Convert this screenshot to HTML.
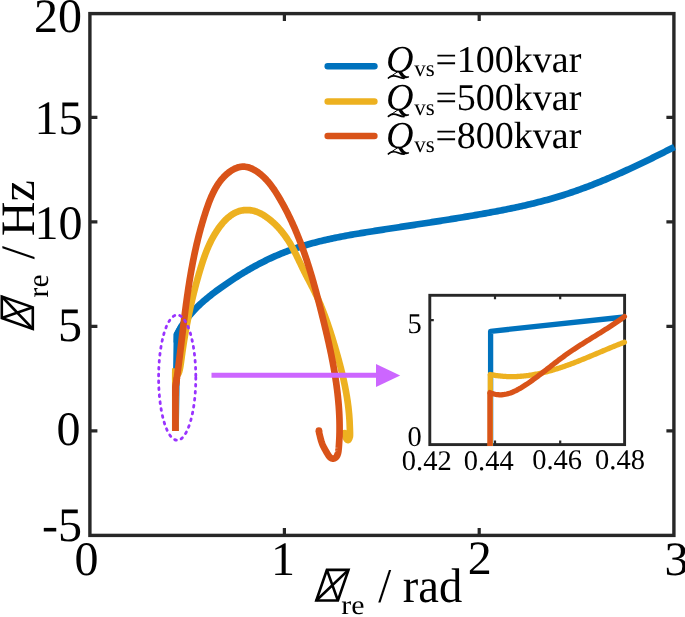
<!DOCTYPE html>
<html><head><meta charset="utf-8"><title>chart</title>
<style>html,body{margin:0;padding:0;background:#fff;overflow:hidden}svg{display:block;will-change:transform}text{font-family:"Liberation Serif",serif;fill:#000;text-rendering:geometricPrecision}.i{font-style:italic}</style></head><body>
<svg width="685" height="617" viewBox="0 0 685 617">
<rect width="685" height="617" fill="#fff"/>
<g stroke="#272727" stroke-width="3.40" fill="none" stroke-linecap="butt" stroke-linejoin="miter">
<rect x="89.90" y="13.60" width="584.00" height="521.80"/>
</g>
<g stroke="#272727" stroke-width="3.2" fill="none">
<path d="M89.90 117.30 H97.40 M673.90 117.30 H666.40"/>
<path d="M89.90 221.90 H97.40 M673.90 221.90 H666.40"/>
<path d="M89.90 326.30 H97.40 M673.90 326.30 H666.40"/>
<path d="M89.90 430.90 H97.40 M673.90 430.90 H666.40"/>
<path d="M284.40 535.40 V527.90 M284.40 13.60 V21.10"/>
<path d="M479.20 535.40 V527.90 M479.20 13.60 V21.10"/>
</g>
<g>
<path d="M175.50 431.00 L177.00 334.60 L177.80 333.00 L178.62 331.42 L179.47 329.87 L180.35 328.34 L181.26 326.84 L182.19 325.36 L183.15 323.90 L184.13 322.46 L185.13 321.04 L186.16 319.64 L187.21 318.27 L188.29 316.91 L189.38 315.57 L190.50 314.25 L191.64 312.95 L192.79 311.67 L193.97 310.40 L195.16 309.15 L196.37 307.92 L197.60 306.70 L198.85 305.50 L200.11 304.32 L201.38 303.14 L202.68 301.98 L203.98 300.84 L205.30 299.70 L206.63 298.58 L207.97 297.47 L209.33 296.38 L210.70 295.29 L212.07 294.21 L213.46 293.14 L214.85 292.09 L216.26 291.04 L217.67 289.99 L219.09 288.96 L220.51 287.93 L221.94 286.91 L223.38 285.90 L224.82 284.89 L226.27 283.89 L227.72 282.90 L229.18 281.91 L230.64 280.93 L232.11 279.95 L233.58 278.99 L235.05 278.03 L236.53 277.07 L238.02 276.13 L239.51 275.19 L241.01 274.26 L242.51 273.34 L244.01 272.43 L245.52 271.52 L247.04 270.63 L248.55 269.74 L250.08 268.86 L251.61 267.99 L253.14 267.13 L254.68 266.28 L256.22 265.44 L257.77 264.61 L259.32 263.79 L260.88 262.98 L262.44 262.18 L264.00 261.39 L265.57 260.62 L267.15 259.85 L268.73 259.09 L270.31 258.35 L271.90 257.61 L273.49 256.89 L275.08 256.18 L276.69 255.48 L278.29 254.80 L279.90 254.13 L281.52 253.47 L283.13 252.82 L284.76 252.18 L286.38 251.56 L288.01 250.95 L289.65 250.35 L291.29 249.76 L292.93 249.18 L294.58 248.62 L296.23 248.07 L297.88 247.52 L299.54 246.99 L301.20 246.47 L302.86 245.96 L304.53 245.45 L306.20 244.96 L307.87 244.48 L309.55 244.01 L311.23 243.54 L312.91 243.09 L314.60 242.64 L316.29 242.20 L317.98 241.77 L319.67 241.35 L321.37 240.94 L323.07 240.53 L324.77 240.14 L326.47 239.75 L328.18 239.36 L329.88 238.98 L331.59 238.61 L333.30 238.25 L335.02 237.89 L336.73 237.54 L338.45 237.20 L340.17 236.86 L341.89 236.52 L343.61 236.19 L345.33 235.87 L347.06 235.55 L348.78 235.23 L350.51 234.92 L352.24 234.62 L353.97 234.31 L355.70 234.01 L357.43 233.72 L359.16 233.43 L360.89 233.14 L362.62 232.85 L364.36 232.57 L366.09 232.29 L367.83 232.01 L369.56 231.73 L371.30 231.46 L373.03 231.19 L374.77 230.92 L376.50 230.65 L378.24 230.38 L379.97 230.11 L381.70 229.84 L383.44 229.58 L385.17 229.31 L386.91 229.04 L388.64 228.78 L390.37 228.51 L392.11 228.25 L393.84 227.99 L395.57 227.72 L397.31 227.46 L399.04 227.19 L400.77 226.93 L402.50 226.67 L404.23 226.40 L405.96 226.14 L407.70 225.88 L409.43 225.62 L411.16 225.35 L412.89 225.09 L414.62 224.83 L416.35 224.56 L418.08 224.30 L419.81 224.03 L421.54 223.77 L423.27 223.50 L425.00 223.24 L426.73 222.97 L428.45 222.70 L430.18 222.44 L431.91 222.17 L433.64 221.90 L435.37 221.63 L437.10 221.36 L438.82 221.09 L440.55 220.82 L442.28 220.55 L444.01 220.27 L445.73 220.00 L447.46 219.73 L449.19 219.45 L450.92 219.17 L452.64 218.89 L454.37 218.61 L456.09 218.33 L457.82 218.05 L459.55 217.77 L461.27 217.48 L463.00 217.20 L464.72 216.91 L466.45 216.62 L468.17 216.33 L469.90 216.04 L471.63 215.74 L473.35 215.45 L475.07 215.15 L476.80 214.85 L478.52 214.55 L480.25 214.25 L481.97 213.94 L483.70 213.64 L485.42 213.33 L487.14 213.02 L488.87 212.71 L490.59 212.39 L492.31 212.07 L494.04 211.75 L495.76 211.43 L497.48 211.10 L499.20 210.77 L500.92 210.44 L502.64 210.11 L504.36 209.77 L506.08 209.42 L507.79 209.08 L509.51 208.73 L511.23 208.38 L512.94 208.02 L514.66 207.66 L516.37 207.29 L518.08 206.92 L519.79 206.55 L521.50 206.17 L523.21 205.79 L524.92 205.40 L526.62 205.01 L528.33 204.61 L530.03 204.21 L531.73 203.80 L533.44 203.39 L535.13 202.97 L536.83 202.55 L538.53 202.12 L540.22 201.68 L541.92 201.24 L543.61 200.80 L545.30 200.34 L546.99 199.89 L548.67 199.42 L550.36 198.95 L552.04 198.47 L553.72 197.99 L555.40 197.50 L557.07 197.00 L558.75 196.49 L560.42 195.98 L562.09 195.46 L563.76 194.94 L565.43 194.40 L567.09 193.86 L568.75 193.32 L570.41 192.77 L572.07 192.21 L573.72 191.64 L575.38 191.07 L577.03 190.49 L578.68 189.90 L580.33 189.31 L581.97 188.72 L583.62 188.11 L585.26 187.50 L586.90 186.89 L588.54 186.27 L590.17 185.64 L591.81 185.01 L593.44 184.38 L595.07 183.73 L596.70 183.09 L598.32 182.43 L599.95 181.78 L601.57 181.11 L603.19 180.45 L604.81 179.78 L606.43 179.10 L608.05 178.42 L609.66 177.73 L611.27 177.04 L612.88 176.35 L614.49 175.65 L616.10 174.95 L617.71 174.24 L619.31 173.53 L620.91 172.82 L622.51 172.10 L624.11 171.38 L625.71 170.65 L627.31 169.92 L628.90 169.19 L630.49 168.46 L632.08 167.72 L633.67 166.98 L635.26 166.23 L636.85 165.48 L638.43 164.73 L640.02 163.98 L641.60 163.22 L643.18 162.47 L644.76 161.71 L646.34 160.94 L647.91 160.18 L649.49 159.41 L651.06 158.64 L652.63 157.87 L654.20 157.09 L655.77 156.32 L657.34 155.54 L658.91 154.76 L660.47 153.98 L662.04 153.20 L663.60 152.42 L665.16 151.63 L666.72 150.84 L668.28 150.06 L669.84 149.27 L671.39 148.48 L672.95 147.69 L674.50 146.90" stroke="#0072BD" stroke-width="6.70" fill="none" stroke-linecap="butt" stroke-linejoin="round"/>
<path d="M176.88 342.60 L177.00 334.60 L182.19 325.36" stroke="#0072BD" stroke-width="6.70" fill="none" stroke-linecap="butt" stroke-linejoin="miter" stroke-miterlimit="4"/>
<path d="M175.30 431.00 L175.30 371.90 L175.42 372.04 L175.57 372.26 L175.74 372.52 L175.94 372.82 L176.15 373.13 L176.38 373.45 L176.61 373.75 L176.84 374.01 L177.07 374.23 L177.30 374.38 L177.51 374.44 L177.70 374.40 L177.88 374.27 L178.06 374.09 L178.24 373.85 L178.41 373.56 L178.58 373.22 L178.74 372.82 L178.91 372.39 L179.07 371.91 L179.23 371.39 L179.39 370.83 L179.55 370.23 L179.70 369.60 L179.85 368.90 L180.01 368.12 L180.16 367.25 L180.32 366.34 L180.47 365.38 L180.61 364.39 L180.76 363.40 L180.90 362.41 L181.03 361.46 L181.16 360.54 L181.28 359.68 L181.40 358.90 L181.56 357.73 L181.71 356.55 L181.88 355.38 L182.04 354.20 L182.20 353.03 L182.37 351.85 L182.54 350.67 L182.71 349.49 L182.89 348.32 L183.07 347.14 L183.25 345.95 L183.43 344.77 L183.61 343.59 L183.80 342.41 L183.99 341.23 L184.18 340.04 L184.37 338.86 L184.57 337.68 L184.77 336.49 L184.97 335.31 L185.17 334.12 L185.38 332.94 L185.59 331.76 L185.80 330.57 L186.01 329.38 L186.23 328.20 L186.44 327.01 L186.66 325.83 L186.89 324.64 L187.11 323.46 L187.34 322.27 L187.57 321.09 L187.80 319.91 L188.04 318.72 L188.27 317.54 L188.51 316.35 L188.76 315.17 L189.00 313.99 L189.25 312.81 L189.50 311.62 L189.75 310.44 L190.00 309.26 L190.26 308.08 L190.52 306.90 L190.78 305.72 L191.05 304.54 L191.32 303.37 L191.59 302.19 L191.86 301.01 L192.13 299.84 L192.41 298.66 L192.69 297.49 L192.97 296.32 L193.26 295.15 L193.54 293.98 L193.83 292.81 L194.13 291.64 L194.42 290.47 L194.72 289.30 L195.02 288.14 L195.32 286.98 L195.63 285.81 L195.93 284.65 L196.24 283.49 L196.56 282.34 L196.87 281.18 L197.19 280.02 L197.51 278.87 L197.84 277.72 L198.16 276.57 L198.49 275.42 L198.82 274.27 L199.15 273.13 L199.49 271.98 L199.83 270.84 L200.17 269.70 L200.52 268.56 L200.86 267.43 L201.21 266.29 L201.57 265.16 L201.92 264.03 L202.29 262.90 L202.65 261.78 L203.03 260.65 L203.40 259.53 L203.79 258.41 L204.18 257.29 L204.57 256.18 L204.98 255.07 L205.39 253.96 L205.81 252.85 L206.24 251.75 L206.67 250.65 L207.12 249.55 L207.57 248.45 L208.04 247.36 L208.52 246.27 L209.00 245.19 L209.50 244.10 L210.01 243.02 L210.53 241.95 L211.07 240.87 L211.61 239.80 L212.17 238.74 L212.75 237.67 L213.33 236.61 L213.93 235.56 L214.55 234.51 L215.18 233.46 L215.83 232.41 L216.50 231.37 L217.18 230.33 L217.87 229.30 L218.58 228.28 L219.31 227.27 L220.06 226.27 L220.82 225.28 L221.60 224.31 L222.39 223.35 L223.20 222.42 L224.03 221.50 L224.87 220.60 L225.73 219.73 L226.61 218.89 L227.50 218.07 L228.41 217.28 L229.33 216.53 L230.27 215.80 L231.23 215.11 L232.20 214.46 L233.19 213.84 L234.20 213.27 L235.22 212.73 L236.26 212.24 L237.32 211.80 L238.39 211.40 L239.48 211.05 L240.58 210.75 L241.70 210.50 L242.84 210.31 L243.98 210.16 L245.14 210.07 L246.30 210.02 L247.47 210.03 L248.64 210.08 L249.82 210.18 L250.99 210.34 L252.15 210.54 L253.31 210.78 L254.47 211.08 L255.61 211.42 L256.74 211.80 L257.85 212.24 L258.95 212.71 L260.04 213.23 L261.11 213.78 L262.17 214.36 L263.21 214.98 L264.24 215.62 L265.25 216.28 L266.25 216.96 L267.24 217.66 L268.21 218.38 L269.18 219.11 L270.12 219.86 L271.06 220.63 L271.98 221.42 L272.89 222.22 L273.78 223.03 L274.67 223.86 L275.54 224.71 L276.39 225.57 L277.24 226.44 L278.07 227.32 L278.88 228.22 L279.69 229.13 L280.48 230.05 L281.26 230.98 L282.03 231.92 L282.78 232.87 L283.52 233.83 L284.25 234.79 L284.96 235.77 L285.67 236.76 L286.36 237.75 L287.04 238.75 L287.70 239.75 L288.36 240.76 L289.00 241.78 L289.63 242.80 L290.24 243.83 L290.85 244.86 L291.45 245.89 L292.03 246.93 L292.61 247.97 L293.17 249.02 L293.73 250.07 L294.28 251.12 L294.83 252.17 L295.36 253.23 L295.90 254.29 L296.42 255.35 L296.95 256.42 L297.47 257.48 L297.98 258.55 L298.50 259.62 L299.01 260.69 L299.52 261.77 L300.04 262.84 L300.55 263.91 L301.06 264.99 L301.58 266.06 L302.09 267.14 L302.61 268.21 L303.13 269.28 L303.66 270.36 L304.19 271.43 L304.73 272.50 L305.27 273.57 L305.82 274.65 L306.37 275.72 L306.92 276.79 L307.48 277.86 L308.04 278.93 L308.60 279.99 L309.16 281.07 L309.72 282.14 L310.28 283.21 L310.83 284.28 L311.39 285.35 L311.94 286.43 L312.49 287.50 L313.04 288.58 L313.58 289.66 L314.11 290.74 L314.64 291.82 L315.17 292.90 L315.69 293.99 L316.20 295.07 L316.71 296.16 L317.21 297.25 L317.70 298.35 L318.19 299.44 L318.67 300.54 L319.15 301.64 L319.63 302.74 L320.09 303.84 L320.56 304.94 L321.02 306.05 L321.47 307.15 L321.92 308.26 L322.36 309.37 L322.80 310.48 L323.23 311.60 L323.66 312.71 L324.09 313.83 L324.51 314.95 L324.93 316.07 L325.34 317.19 L325.75 318.31 L326.15 319.43 L326.55 320.56 L326.95 321.69 L327.35 322.81 L327.74 323.94 L328.12 325.07 L328.51 326.21 L328.89 327.34 L329.26 328.47 L329.64 329.61 L330.01 330.75 L330.38 331.88 L330.74 333.02 L331.11 334.16 L331.47 335.31 L331.82 336.45 L332.18 337.59 L332.53 338.74 L332.88 339.88 L333.23 341.03 L333.58 342.18 L333.92 343.33 L334.27 344.48 L334.61 345.63 L334.95 346.78 L335.28 347.93 L335.62 349.09 L335.95 350.24 L336.29 351.40 L336.62 352.55 L336.95 353.71 L337.27 354.87 L337.60 356.03 L337.92 357.19 L338.24 358.35 L338.56 359.51 L338.87 360.67 L339.19 361.83 L339.50 363.00 L339.80 364.16 L340.11 365.33 L340.41 366.49 L340.71 367.66 L341.00 368.83 L341.30 369.99 L341.58 371.16 L341.87 372.33 L342.15 373.50 L342.43 374.67 L342.70 375.85 L342.98 377.02 L343.24 378.19 L343.51 379.37 L343.77 380.54 L344.02 381.72 L344.27 382.89 L344.52 384.07 L344.76 385.25 L345.00 386.42 L345.23 387.60 L345.46 388.78 L345.68 389.96 L345.90 391.14 L346.12 392.32 L346.33 393.50 L346.53 394.69 L346.73 395.87 L346.92 397.05 L347.11 398.23 L347.29 399.42 L347.47 400.60 L347.64 401.79 L347.81 402.97 L347.97 404.16 L348.12 405.35 L348.27 406.54 L348.41 407.72 L348.54 408.91 L348.67 410.10 L348.80 411.29 L348.91 412.48 L349.02 413.67 L349.13 414.86 L349.22 416.05 L349.31 417.24 L349.39 418.43 L349.47 419.63 L349.54 420.82 L349.60 422.01 L349.65 423.21 L349.70 424.40 L349.73 425.19 L349.77 426.02 L349.80 426.90 L349.84 427.80 L349.87 428.71 L349.90 429.62 L349.93 430.50 L349.96 431.36 L349.98 432.17 L349.99 432.93 L350.00 433.61 L350.00 434.20 L349.99 434.70 L349.99 435.13 L349.98 435.50 L349.96 435.81 L349.94 436.07 L349.92 436.30 L349.89 436.50 L349.85 436.69 L349.80 436.88 L349.74 437.07 L349.68 437.27 L349.60 437.50 L349.51 437.76 L349.41 438.03 L349.29 438.31 L349.17 438.59 L349.04 438.87 L348.90 439.14 L348.76 439.39 L348.61 439.61 L348.46 439.80 L348.30 439.95 L348.15 440.05 L348.00 440.10 L347.85 440.10 L347.68 440.05 L347.51 439.97 L347.34 439.85 L347.16 439.69 L346.98 439.51 L346.80 439.30 L346.63 439.07 L346.46 438.83 L346.30 438.56 L346.14 438.28 L346.00 438.00 L345.86 437.68 L345.73 437.30 L345.60 436.88 L345.47 436.42 L345.34 435.95 L345.23 435.47 L345.11 435.00 L345.01 434.54 L344.92 434.13 L344.83 433.75 L344.76 433.44 L344.70 433.20" stroke="#EDB120" stroke-width="6.70" fill="none" stroke-linecap="butt" stroke-linejoin="round"/>
<path d="M175.30 379.90 L175.30 371.90 L178.30 372.20" stroke="#EDB120" stroke-width="6.70" fill="none" stroke-linecap="butt" stroke-linejoin="miter" stroke-miterlimit="4"/>
<circle cx="344.70" cy="433.20" r="3.35" fill="#EDB120"/>
<path d="M175.40 431.00 L175.40 388.00 L175.66 386.27 L175.91 384.54 L176.16 382.82 L176.41 381.09 L176.65 379.36 L176.89 377.64 L177.13 375.92 L177.36 374.19 L177.60 372.47 L177.83 370.75 L178.05 369.03 L178.28 367.31 L178.50 365.59 L178.72 363.87 L178.94 362.15 L179.16 360.43 L179.37 358.71 L179.59 357.00 L179.80 355.28 L180.01 353.57 L180.22 351.85 L180.43 350.14 L180.63 348.42 L180.84 346.71 L181.05 345.00 L181.25 343.29 L181.46 341.58 L181.66 339.87 L181.87 338.16 L182.07 336.45 L182.28 334.74 L182.48 333.03 L182.69 331.32 L182.89 329.61 L183.10 327.91 L183.31 326.20 L183.51 324.50 L183.72 322.79 L183.93 321.09 L184.14 319.38 L184.36 317.68 L184.57 315.98 L184.79 314.27 L185.00 312.57 L185.22 310.87 L185.44 309.17 L185.67 307.47 L185.89 305.77 L186.12 304.07 L186.35 302.37 L186.58 300.67 L186.82 298.97 L187.06 297.28 L187.30 295.58 L187.54 293.88 L187.79 292.18 L188.04 290.49 L188.29 288.79 L188.55 287.10 L188.81 285.40 L189.08 283.71 L189.35 282.01 L189.62 280.32 L189.90 278.62 L190.18 276.93 L190.47 275.24 L190.76 273.54 L191.06 271.85 L191.36 270.16 L191.67 268.47 L191.98 266.78 L192.29 265.08 L192.61 263.39 L192.94 261.70 L193.27 260.01 L193.61 258.32 L193.96 256.63 L194.31 254.94 L194.66 253.25 L195.03 251.56 L195.40 249.87 L195.77 248.19 L196.16 246.50 L196.54 244.81 L196.94 243.12 L197.34 241.43 L197.75 239.75 L198.17 238.06 L198.60 236.37 L199.03 234.68 L199.47 233.00 L199.92 231.31 L200.37 229.62 L200.83 227.94 L201.31 226.25 L201.79 224.56 L202.27 222.88 L202.77 221.19 L203.28 219.51 L203.79 217.82 L204.31 216.13 L204.85 214.45 L205.39 212.76 L205.94 211.08 L206.50 209.39 L207.07 207.71 L207.66 206.03 L208.26 204.36 L208.88 202.70 L209.51 201.05 L210.17 199.41 L210.84 197.78 L211.54 196.17 L212.26 194.57 L213.01 193.00 L213.79 191.44 L214.59 189.91 L215.43 188.40 L216.29 186.91 L217.19 185.45 L218.13 184.02 L219.10 182.63 L220.11 181.26 L221.15 179.93 L222.24 178.64 L223.37 177.38 L224.55 176.16 L225.77 174.99 L227.04 173.85 L228.36 172.77 L229.72 171.73 L231.12 170.77 L232.56 169.88 L234.03 169.07 L235.53 168.36 L237.05 167.76 L238.60 167.28 L240.16 166.92 L241.73 166.70 L243.32 166.64 L244.90 166.72 L246.49 166.95 L248.07 167.32 L249.65 167.81 L251.21 168.42 L252.76 169.13 L254.28 169.93 L255.78 170.82 L257.25 171.78 L258.68 172.80 L260.08 173.88 L261.43 175.00 L262.75 176.16 L264.02 177.36 L265.26 178.60 L266.46 179.87 L267.63 181.17 L268.77 182.50 L269.87 183.86 L270.95 185.25 L272.00 186.66 L273.02 188.09 L274.02 189.53 L275.00 191.00 L275.96 192.48 L276.90 193.97 L277.83 195.47 L278.73 196.98 L279.63 198.49 L280.51 200.01 L281.38 201.54 L282.24 203.06 L283.09 204.59 L283.92 206.13 L284.75 207.66 L285.56 209.20 L286.37 210.75 L287.16 212.30 L287.94 213.85 L288.71 215.40 L289.47 216.96 L290.22 218.52 L290.96 220.09 L291.70 221.66 L292.42 223.23 L293.13 224.80 L293.83 226.38 L294.53 227.96 L295.21 229.54 L295.89 231.13 L296.55 232.72 L297.21 234.31 L297.86 235.91 L298.50 237.50 L299.13 239.11 L299.76 240.71 L300.38 242.31 L300.99 243.92 L301.59 245.53 L302.18 247.15 L302.77 248.76 L303.35 250.38 L303.92 252.00 L304.49 253.62 L305.05 255.25 L305.60 256.88 L306.15 258.51 L306.69 260.14 L307.22 261.77 L307.75 263.41 L308.27 265.05 L308.79 266.69 L309.30 268.33 L309.81 269.97 L310.31 271.62 L310.81 273.27 L311.30 274.92 L311.79 276.57 L312.27 278.22 L312.75 279.87 L313.22 281.53 L313.69 283.19 L314.15 284.84 L314.62 286.50 L315.07 288.17 L315.53 289.83 L315.98 291.49 L316.43 293.16 L316.87 294.83 L317.31 296.49 L317.75 298.16 L318.19 299.83 L318.62 301.50 L319.05 303.18 L319.48 304.85 L319.91 306.52 L320.34 308.20 L320.76 309.87 L321.18 311.55 L321.60 313.23 L322.02 314.90 L322.44 316.58 L322.86 318.26 L323.28 319.94 L323.69 321.62 L324.10 323.30 L324.51 324.98 L324.92 326.67 L325.32 328.35 L325.73 330.03 L326.13 331.72 L326.52 333.40 L326.92 335.09 L327.31 336.78 L327.70 338.46 L328.08 340.15 L328.46 341.84 L328.84 343.53 L329.21 345.22 L329.58 346.91 L329.95 348.60 L330.31 350.30 L330.67 351.99 L331.02 353.68 L331.37 355.38 L331.71 357.07 L332.04 358.77 L332.38 360.47 L332.70 362.17 L333.02 363.86 L333.34 365.56 L333.65 367.26 L333.95 368.96 L334.25 370.67 L334.54 372.37 L334.82 374.07 L335.10 375.77 L335.37 377.48 L335.63 379.18 L335.89 380.89 L336.14 382.60 L336.38 384.31 L336.62 386.01 L336.84 387.72 L337.06 389.43 L337.27 391.15 L337.48 392.86 L337.67 394.57 L337.86 396.28 L338.03 398.00 L338.20 399.71 L338.36 401.43 L338.51 403.15 L338.66 404.86 L338.79 406.58 L338.91 408.30 L339.02 410.02 L339.13 411.74 L339.22 413.47 L339.30 415.19 L339.37 416.91 L339.44 418.64 L339.49 420.36 L339.53 422.09 L339.56 423.82 L339.58 425.55 L339.58 427.27 L339.58 429.00 L339.57 430.74 L339.54 432.47 L339.50 434.20 L339.48 435.06 L339.46 435.88 L339.43 436.69 L339.40 437.46 L339.36 438.22 L339.33 438.95 L339.29 439.66 L339.25 440.36 L339.22 441.04 L339.18 441.70 L339.14 442.36 L339.10 443.00 L339.06 443.63 L339.02 444.24 L338.99 444.84 L338.95 445.43 L338.91 445.99 L338.87 446.54 L338.83 447.08 L338.79 447.60 L338.74 448.10 L338.70 448.58 L338.65 449.05 L338.60 449.50 L338.55 449.93 L338.51 450.33 L338.46 450.71 L338.41 451.07 L338.37 451.42 L338.32 451.75 L338.27 452.07 L338.21 452.38 L338.14 452.69 L338.07 452.99 L337.99 453.29 L337.90 453.60 L337.80 453.91 L337.70 454.21 L337.59 454.52 L337.48 454.82 L337.36 455.11 L337.24 455.40 L337.10 455.68 L336.96 455.95 L336.81 456.21 L336.65 456.45 L336.48 456.68 L336.30 456.90 L336.10 457.11 L335.89 457.31 L335.67 457.50 L335.43 457.69 L335.19 457.86 L334.94 458.02 L334.68 458.16 L334.42 458.29 L334.16 458.40 L333.90 458.49 L333.65 458.56 L333.40 458.60 L333.15 458.62 L332.90 458.62 L332.65 458.60 L332.40 458.56 L332.15 458.51 L331.89 458.43 L331.64 458.34 L331.39 458.23 L331.14 458.10 L330.89 457.95 L330.64 457.78 L330.40 457.60 L330.17 457.41 L329.95 457.22 L329.74 457.03 L329.54 456.82 L329.34 456.60 L329.14 456.35 L328.93 456.07 L328.70 455.76 L328.46 455.40 L328.20 454.99 L327.92 454.53 L327.60 454.00 L327.24 453.40 L326.85 452.73 L326.41 451.99 L325.96 451.20 L325.49 450.37 L325.01 449.50 L324.53 448.61 L324.05 447.71 L323.59 446.81 L323.16 445.92 L322.76 445.04 L322.40 444.20 L322.07 443.35 L321.76 442.47 L321.46 441.57 L321.18 440.65 L320.91 439.73 L320.66 438.82 L320.43 437.93 L320.21 437.07 L320.01 436.26 L319.82 435.50 L319.65 434.81 L319.50 434.20 L319.37 433.66 L319.26 433.18 L319.17 432.75 L319.11 432.36 L319.06 432.02 L319.02 431.72 L318.99 431.46 L318.97 431.23 L318.95 431.02 L318.94 430.83 L318.92 430.66 L318.90 430.50" stroke="#D95319" stroke-width="6.70" fill="none" stroke-linecap="butt" stroke-linejoin="round"/>
<path d="M175.40 396.00 L175.40 388.00 L176.89 377.64" stroke="#D95319" stroke-width="6.70" fill="none" stroke-linecap="butt" stroke-linejoin="miter" stroke-miterlimit="4"/>
<circle cx="318.90" cy="430.50" r="3.35" fill="#D95319"/>
</g>
<ellipse cx="177.2" cy="377.6" rx="18.6" ry="62.6" fill="none" stroke="#9933FF" stroke-width="2.8" stroke-linecap="round" stroke-dasharray="1.8 5.13"/>
<path d="M211.5 375.2 H378" stroke="#CC66FF" stroke-width="5" fill="none"/>
<path d="M376 364 L400.2 375.4 L376 387 Z" fill="#CC66FF"/>
<rect x="429.80" y="295.30" width="194.80" height="149.30" fill="#fff" stroke="#272727" stroke-width="2.90"/>
<g stroke="#272727" stroke-width="2.2" fill="none">
<path d="M495.00 295.30 V299.30 M495.00 444.60 V440.60"/>
<path d="M560.20 295.30 V299.30 M560.20 444.60 V440.60"/>
<path d="M429.80 320.1 H433.80 M624.60 320.1 H620.60"/>
</g>
<g fill="none" stroke-width="5.30" stroke-linejoin="round">
<path d="M490.60 446.00 L490.60 331.30 L624.40 317.00" stroke="#0072BD" stroke-linecap="butt"/>
<path d="M490.30 446.00 L490.30 374.50" stroke="#EDB120" stroke-linecap="butt"/>
<path d="M490.30 374.50 L491.49 374.74 L492.68 374.96 L493.87 375.17 L495.05 375.36 L496.24 375.54 L497.42 375.71 L498.60 375.86 L499.78 375.99 L500.96 376.12 L502.14 376.23 L503.32 376.32 L504.50 376.40 L505.67 376.47 L506.85 376.53 L508.02 376.58 L509.19 376.61 L510.36 376.63 L511.53 376.63 L512.70 376.63 L513.87 376.61 L515.03 376.58 L516.20 376.54 L517.36 376.49 L518.53 376.42 L519.69 376.35 L520.85 376.26 L522.01 376.16 L523.16 376.06 L524.32 375.94 L525.48 375.81 L526.63 375.67 L527.79 375.52 L528.94 375.36 L530.09 375.19 L531.24 375.02 L532.39 374.83 L533.54 374.63 L534.68 374.43 L535.83 374.21 L536.97 373.99 L538.12 373.76 L539.26 373.51 L540.40 373.27 L541.54 373.01 L542.68 372.74 L543.82 372.47 L544.96 372.19 L546.10 371.90 L547.23 371.61 L548.37 371.30 L549.50 370.99 L550.63 370.68 L551.76 370.35 L552.89 370.02 L554.02 369.69 L555.15 369.34 L556.28 369.00 L557.40 368.64 L558.53 368.28 L559.65 367.92 L560.78 367.54 L561.90 367.17 L563.02 366.79 L564.14 366.40 L565.26 366.01 L566.38 365.61 L567.50 365.21 L568.61 364.81 L569.73 364.40 L570.84 363.99 L571.96 363.57 L573.07 363.15 L574.18 362.72 L575.29 362.30 L576.40 361.87 L577.51 361.43 L578.62 361.00 L579.73 360.56 L580.84 360.12 L581.94 359.67 L583.05 359.23 L584.15 358.78 L585.25 358.33 L586.35 357.88 L587.46 357.42 L588.56 356.97 L589.66 356.51 L590.75 356.05 L591.85 355.60 L592.95 355.14 L594.04 354.68 L595.14 354.22 L596.23 353.76 L597.33 353.30 L598.42 352.84 L599.51 352.37 L600.60 351.91 L601.69 351.46 L602.78 351.00 L603.87 350.54 L604.96 350.08 L606.04 349.62 L607.13 349.17 L608.21 348.72 L609.30 348.27 L610.38 347.82 L611.47 347.37 L612.55 346.92 L613.63 346.48 L614.71 346.04 L615.79 345.60 L616.87 345.16 L617.95 344.73 L619.02 344.30 L620.10 343.87 L621.18 343.45 L622.25 343.03 L623.33 342.61 L624.40 342.20" stroke="#EDB120" stroke-linecap="round"/>
<path d="M490.00 446.00 L490.00 392.60" stroke="#D95319" stroke-linecap="butt"/>
<path d="M490.00 392.60 L491.34 393.14 L492.67 393.60 L494.00 393.98 L495.32 394.28 L496.62 394.51 L497.92 394.67 L499.22 394.75 L500.50 394.78 L501.78 394.74 L503.05 394.64 L504.31 394.48 L505.56 394.26 L506.80 394.00 L508.04 393.68 L509.27 393.32 L510.50 392.91 L511.71 392.46 L512.92 391.98 L514.12 391.45 L515.31 390.90 L516.50 390.31 L517.68 389.69 L518.85 389.05 L520.01 388.39 L521.17 387.71 L522.32 387.00 L523.46 386.29 L524.60 385.56 L525.73 384.83 L526.85 384.08 L527.97 383.33 L529.08 382.57 L530.18 381.81 L531.28 381.03 L532.38 380.26 L533.47 379.47 L534.55 378.68 L535.63 377.89 L536.71 377.09 L537.78 376.29 L538.85 375.48 L539.92 374.67 L540.98 373.86 L542.04 373.04 L543.10 372.22 L544.16 371.40 L545.22 370.58 L546.27 369.76 L547.32 368.93 L548.38 368.11 L549.43 367.29 L550.48 366.46 L551.53 365.64 L552.58 364.82 L553.63 364.00 L554.69 363.18 L555.74 362.37 L556.80 361.56 L557.86 360.75 L558.92 359.94 L559.98 359.14 L561.05 358.34 L562.11 357.55 L563.18 356.76 L564.26 355.98 L565.34 355.20 L566.42 354.43 L567.51 353.67 L568.60 352.91 L569.69 352.16 L570.79 351.41 L571.89 350.66 L572.99 349.92 L574.10 349.19 L575.21 348.46 L576.32 347.73 L577.43 347.00 L578.55 346.28 L579.67 345.57 L580.79 344.85 L581.91 344.14 L583.04 343.43 L584.16 342.72 L585.29 342.02 L586.42 341.31 L587.55 340.61 L588.68 339.91 L589.81 339.21 L590.94 338.51 L592.07 337.81 L593.20 337.11 L594.33 336.41 L595.47 335.71 L596.60 335.01 L597.73 334.31 L598.86 333.60 L599.99 332.90 L601.12 332.20 L602.25 331.49 L603.38 330.78 L604.51 330.07 L605.63 329.35 L606.75 328.64 L607.88 327.92 L609.00 327.20 L610.12 326.47 L611.23 325.74 L612.35 325.00 L613.46 324.27 L614.56 323.52 L615.67 322.78 L616.77 322.02 L617.87 321.27 L618.97 320.50 L620.06 319.74 L621.15 318.96 L622.24 318.18 L623.32 317.39 L624.40 316.60" stroke="#D95319" stroke-linecap="round"/>
</g>
<g font-size="28.5">
<text x="407.6" y="333.0">5</text>
<text x="407.6" y="445.6">0</text>
<text x="401.8" y="469.6">0.42</text>
<text x="463.8" y="469.6">0.44</text>
<text x="532.2" y="469.4">0.46</text>
<text x="595.0" y="469.4">0.48</text>
</g>
<g font-size="48">
<text x="34.0" y="32.3">20</text>
<text x="34.6" y="133.8">15</text>
<text x="34.6" y="238.8">10</text>
<text x="57.9" y="341.4">5</text>
<text x="56.6" y="444.8">0</text>
<text x="41.9" y="541.2">-5</text>
<text x="74.5" y="575.2">0</text>
<text x="271.0" y="575.0">1</text>
<text x="467.8" y="573.5">2</text>
<text x="664.6" y="575.1">3</text>
</g>
<g stroke-width="6.5" stroke-linecap="round" fill="none">
<path d="M327.7 66.2 H374.4" stroke="#0072BD"/>
<path d="M327.7 101.4 H374.4" stroke="#EDB120"/>
<path d="M327.7 136.0 H374.4" stroke="#D95319"/>
</g>
<text x="386.0" y="71.6" font-size="38" class="i">Q</text>
<path d="M398.2 71.40 L388.4 78.00" stroke="#000" stroke-width="1.0" fill="none" stroke-linecap="round"/>
<path d="M388.4 78.00 C391.0 75.60 394.6 75.40 398.0 76.80 C400.0 77.60 402.0 78.30 404.0 78.30" stroke="#000" stroke-width="1.7" fill="none" stroke-linecap="round"/>
<text x="414.3" y="76.3" font-size="23">vs</text>
<text x="435.4" y="71.6" font-size="38">=100kvar</text>
<text x="386.0" y="109.9" font-size="38" class="i">Q</text>
<path d="M398.2 109.70 L388.4 116.30" stroke="#000" stroke-width="1.0" fill="none" stroke-linecap="round"/>
<path d="M388.4 116.30 C391.0 113.90 394.6 113.70 398.0 115.10 C400.0 115.90 402.0 116.60 404.0 116.60" stroke="#000" stroke-width="1.7" fill="none" stroke-linecap="round"/>
<text x="414.3" y="114.6" font-size="23">vs</text>
<text x="435.4" y="109.9" font-size="38">=500kvar</text>
<text x="386.0" y="147.5" font-size="38" class="i">Q</text>
<path d="M398.2 147.30 L388.4 153.90" stroke="#000" stroke-width="1.0" fill="none" stroke-linecap="round"/>
<path d="M388.4 153.90 C391.0 151.50 394.6 151.30 398.0 152.70 C400.0 153.50 402.0 154.20 404.0 154.20" stroke="#000" stroke-width="1.7" fill="none" stroke-linecap="round"/>
<text x="414.3" y="152.2" font-size="23">vs</text>
<text x="435.4" y="147.5" font-size="38">=800kvar</text>
<g stroke="#000" stroke-width="2.60" fill="none" stroke-linejoin="miter"><path d="M316.30 600.50 L337.90 600.50 L348.50 569.90 L326.90 569.90 Z"/><path d="M326.90 569.90 L337.90 600.50 M348.50 569.90 L316.30 600.50"/></g>
<text x="341.2" y="614.3" font-size="27" textLength="23.2" lengthAdjust="spacingAndGlyphs">re</text>
<text x="378.3" y="602.3" font-size="48.5" textLength="84.0" lengthAdjust="spacingAndGlyphs">/ rad</text>
<g transform="translate(34.1 330.2) rotate(-90)">
<g stroke="#000" stroke-width="2.60" fill="none" stroke-linejoin="miter"><path d="M1.30 -1.30 L22.90 -1.30 L33.70 -32.30 L12.10 -32.30 Z"/><path d="M12.10 -32.30 L22.90 -1.30 M33.70 -32.30 L1.30 -1.30"/></g>
<text x="32.8" y="13.4" font-size="29.5">re</text>
<text x="71.0" y="0" font-size="48">/</text>
<text x="94.0" y="0" font-size="48">Hz</text>
</g>
</svg></body></html>
